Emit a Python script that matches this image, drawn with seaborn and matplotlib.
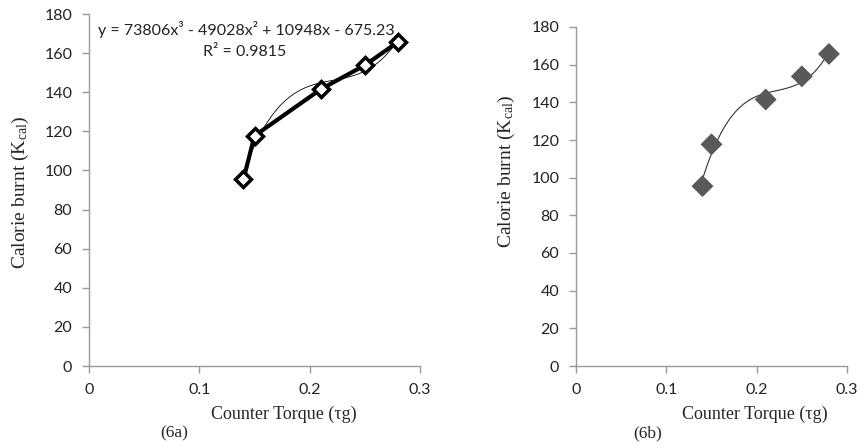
import matplotlib
matplotlib.use("Agg")
import matplotlib.pyplot as plt
import seaborn as sns
import pandas as pd

torque = [0.14, 0.15, 0.21, 0.25, 0.28]
calorie = [95.5, 117.7, 141.5, 153.8, 165.7]
x_ticks = [0, 0.1, 0.2, 0.3]
x_tick_labels = ["0", "0.1", "0.2", "0.3"]
y_ticks = [0, 20, 40, 60, 80, 100, 120, 140, 160, 180]
equation = "y = 73806x³ - 49028x² + 10948x - 675.23"
r2_text = "R² = 0.9815"
xlabel = "Counter Torque (τg)"
ylabel = "Calorie burnt (K$_\\mathrm{cal}$)"
panels = ["(6a)", "(6b)"]

df = pd.DataFrame({"torque": torque, "calorie": calorie})

sns.set_style("white")
plt.rcParams["font.family"] = ["Lato", "DejaVu Sans"]
plt.rcParams["mathtext.fontset"] = "custom"
plt.rcParams["mathtext.rm"] = "Liberation Serif"
plt.rcParams["mathtext.it"] = "Liberation Serif:italic"

W, H = 859, 446
fig = plt.figure(figsize=(W / 100, H / 100), dpi=100)

def box(l, t, r, b):
    return [l / W, 1 - b / H, (r - l) / W, (b - t) / H]

ax1 = fig.add_axes(box(89, 14, 420, 366))
ax2 = fig.add_axes(box(576, 27, 847, 366))

spine_c = "#9a9a9a"
for ax in (ax1, ax2):
    ax.set_xlim(0, 0.3)
    ax.set_ylim(0, 180)
    ax.set_xticks(x_ticks)
    ax.set_xticklabels(x_tick_labels)
    ax.set_yticks(y_ticks)
    for s in ("top", "right"):
        ax.spines[s].set_visible(False)
    for s in ("left", "bottom"):
        ax.spines[s].set_color(spine_c)
        ax.spines[s].set_linewidth(1.0)
    ax.tick_params(axis="both", direction="out", length=5, width=1.0,
                   color=spine_c, labelsize=11.5, labelcolor="#222222",
                   left=True, bottom=True)
    ax.tick_params(axis="x", pad=7)
    ax.tick_params(axis="y", pad=7)
    ax.patch.set_alpha(0)

# Left panel: thick line with open diamonds and thin cubic trendline
sns.regplot(data=df, x="torque", y="calorie", order=3, ci=None, scatter=False,
            truncate=True, ax=ax1, line_kws=dict(color="black", linewidth=0.6))
sns.lineplot(data=df, x="torque", y="calorie", ax=ax1, color="black",
             linewidth=3, marker="D", markersize=8, markerfacecolor="white",
             markeredgecolor="black", markeredgewidth=2.5, zorder=3)
ax1.set_xlabel("")
ax1.set_ylabel("")
fig.text(246 / W, 1 - 30 / H, equation, ha="center", va="center",
         fontsize=11.5, family=["Lato", "DejaVu Sans"], color="#222222")
fig.text(245 / W, 1 - 52 / H, r2_text, ha="center", va="center",
         fontsize=11.5, family=["Lato", "DejaVu Sans"], color="#222222")

# Right panel: gray diamonds with thin cubic trendline
sns.regplot(data=df, x="torque", y="calorie", order=3, ci=None, scatter=False,
            truncate=True, ax=ax2, line_kws=dict(color="#333333", linewidth=0.8))
sns.scatterplot(data=df, x="torque", y="calorie", ax=ax2, marker="D", s=125,
                color="#595959", edgecolor="none", zorder=3)
ax2.set_xlabel("")
ax2.set_ylabel("")

serif = ["Liberation Serif", "DejaVu Serif"]
fig.text(284 / W, 1 - 414 / H, xlabel, ha="center", va="center", fontsize=13, family=serif)
fig.text(755 / W, 1 - 414 / H, xlabel, ha="center", va="center", fontsize=13, family=serif)
fig.text(174 / W, 1 - 433 / H, panels[0], ha="center", va="center", fontsize=12.5, family=serif)
fig.text(648 / W, 1 - 433 / H, panels[1], ha="center", va="center", fontsize=12.5, family=serif)
fig.text(20 / W, 1 - 192 / H, ylabel, ha="center", va="center", rotation=90, fontsize=14, family=serif)
fig.text(506 / W, 1 - 171 / H, ylabel, ha="center", va="center", rotation=90, fontsize=14, family=serif)

fig.savefig("out.png", dpi=100)
